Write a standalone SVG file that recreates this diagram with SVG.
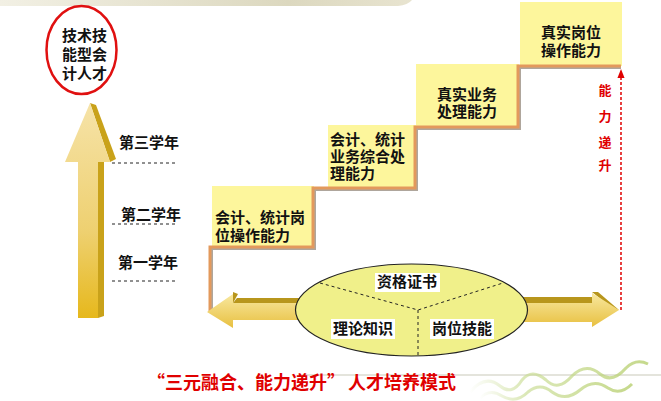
<svg xmlns="http://www.w3.org/2000/svg" width="661" height="401" viewBox="0 0 661 401">
<defs>
<style>
.t{font-family:"Noto Sans CJK SC","Liberation Sans",sans-serif;font-weight:bold;font-size:15px;fill:#111}
.r{fill:#e00000}
.box{fill:#fdf69c}
.dash{stroke:#222;stroke-width:1;stroke-dasharray:3,3;fill:none}
</style>
<linearGradient id="topbar" x1="0" y1="0" x2="1" y2="0">
<stop offset="0" stop-color="#f2f0e4"/><stop offset="0.7" stop-color="#dcd8bf"/><stop offset="1" stop-color="#e8e4d0"/>
</linearGradient>
<linearGradient id="upg" x1="0" y1="0" x2="0" y2="1">
<stop offset="0" stop-color="#f6e3a8"/><stop offset="0.6" stop-color="#eed070"/><stop offset="1" stop-color="#e6b81c"/>
</linearGradient>
<linearGradient id="hg" x1="0" y1="0" x2="0" y2="1">
<stop offset="0" stop-color="#f8e8a0"/><stop offset="1" stop-color="#e8c040"/>
</linearGradient>
<linearGradient id="floral" x1="0" y1="0" x2="1" y2="0">
<stop offset="0" stop-color="#c8dc90" stop-opacity="0"/><stop offset="0.3" stop-color="#c8dc90" stop-opacity="0.8"/><stop offset="1" stop-color="#b8d070"/>
</linearGradient>
<marker id="ah" viewBox="0 0 10 10" refX="9" refY="5" markerWidth="6" markerHeight="6" orient="auto">
<path d="M0,1 L10,5 L0,9 z" fill="#e00000"/>
</marker>
</defs>

<g id="background">
<rect width="661" height="401" fill="#ffffff"/>
<path d="M0,0 H412 Q408,5 398,6 H0 z" fill="url(#topbar)"/>
<line x1="300" y1="375" x2="661" y2="375" stroke="#e4e4dc" stroke-width="2"/>
<g fill="none" stroke="url(#floral)" stroke-width="3" opacity="0.8">
<path d="M470,392 q15,-18 30,-6 q12,10 22,-6 q10,-12 24,0 q12,12 26,-4 q14,-14 28,-2 q12,10 26,-6 q10,-10 22,-4"/>
<path d="M480,398 q10,-10 22,-2 q14,8 26,-4 q12,-10 24,0 q14,10 28,-2 q14,-12 28,-2 q12,8 24,-4"/>
</g>
</g>

<g id="goal">
<ellipse cx="81.5" cy="50" rx="35" ry="44" fill="#fff" stroke="#e01010" stroke-width="2.5"/>
<text class="t" x="62" y="41">技术技<tspan x="62" dy="19">能型会</tspan><tspan x="62" dy="19">计人才</tspan></text>
</g>

<g id="up-arrow">
<polygon points="90,103 96,105 116,159 110,162" fill="#c9a21a"/>
<polygon points="98,162 104,159 104,316 98,318" fill="#c9a21a"/>
<polygon points="90,103 65,162 78,162 78,318 98,318 98,162 110,162" fill="url(#upg)"/>
</g>

<g id="years">
<text class="t" x="119" y="148">第三学年</text>
<line class="dash" x1="112" y1="163" x2="178" y2="163"/>
<text class="t" x="121" y="220">第二学年</text>
<line class="dash" x1="112" y1="224" x2="178" y2="224"/>
<text class="t" x="118" y="268">第一学年</text>
<line class="dash" x1="112" y1="281" x2="178" y2="281"/>
</g>

<g id="step1">
<rect class="box" x="212" y="186" width="102" height="61"/>
<text class="t" x="215" y="223">会计、统计岗<tspan x="215" dy="18">位操作能力</tspan></text>
</g>
<g id="step2">
<rect class="box" x="328" y="125" width="88" height="63"/>
<text class="t" x="330" y="145">会计、统计<tspan x="330" dy="17">业务综合处</tspan><tspan x="330" dy="17">理能力</tspan></text>
</g>
<g id="step3">
<rect class="box" x="416" y="64" width="103" height="63"/>
<text class="t" x="467" y="100" text-anchor="middle">真实业务<tspan x="467" dy="17">处理能力</tspan></text>
</g>
<g id="step4">
<rect class="box" x="520" y="2" width="102" height="64"/>
<text class="t" x="571" y="38" text-anchor="middle">真实岗位<tspan x="571" dy="18">操作能力</tspan></text>
</g>

<g id="connectors">
<path d="M211.5,312 V248.5 H314.5 V189.5 H416.5 V128.5 H519.5 V67.5 H621" fill="none" stroke="#7a6a5a" stroke-width="3" opacity="0.6"/>
<path d="M210,312 V247 H313 V188 H415 V127 H518 V66 H621" fill="none" stroke="#e3995c" stroke-width="3"/>
<line x1="621" y1="310" x2="621" y2="70" stroke="#e00000" stroke-width="1.5" stroke-dasharray="3,2" marker-end="url(#ah)"/>
<text class="t r" x="605" y="95" text-anchor="middle" style="font-size:13px">能</text>
<text class="t r" x="605" y="121" text-anchor="middle" style="font-size:13px">力</text>
<text class="t r" x="605" y="147" text-anchor="middle" style="font-size:13px">递</text>
<text class="t r" x="605" y="170" text-anchor="middle" style="font-size:13px">升</text>
</g>

<g id="left-arrow">
<polygon points="237,298 300,298 300,303 233,303" fill="#b8961c"/>
<polygon points="233,292 238,294 233,303" fill="#b8961c"/>
<polygon points="207,312 233,294 233,303 300,303 300,320 233,320 233,328" fill="url(#hg)"/>
</g>
<g id="right-arrow">
<polygon points="520,297 592,297 592,303 520,303" fill="#b8961c"/>
<polygon points="592,292 598,292 619,310 612,308" fill="#b8961c"/>
<polygon points="619,310 592,293 592,303 520,303 520,322 592,322 592,327" fill="url(#hg)"/>
</g>

<g id="core">
<ellipse cx="411.5" cy="310" rx="116" ry="46" fill="#f0f08a" stroke="#222" stroke-width="1.2"/>
<path class="dash" d="M320,283 L418,310 L503,283 M418,310 V356"/>
<rect x="375" y="273" width="65" height="19" fill="#fff"/>
<text class="t" x="407" y="287" text-anchor="middle">资格证书</text>
<rect x="331" y="319" width="64" height="20" fill="#fff"/>
<text class="t" x="363" y="334" text-anchor="middle">理论知识</text>
<rect x="430" y="319" width="64" height="20" fill="#fff"/>
<text class="t" x="462" y="334" text-anchor="middle">岗位技能</text>
</g>

<g id="caption">
<text class="t r" x="147" y="389" style="font-size:18px">“三元融合、能力递升”</text>
<text class="t r" x="348" y="389" style="font-size:18px">人才培养模式</text>
</g>
</svg>
